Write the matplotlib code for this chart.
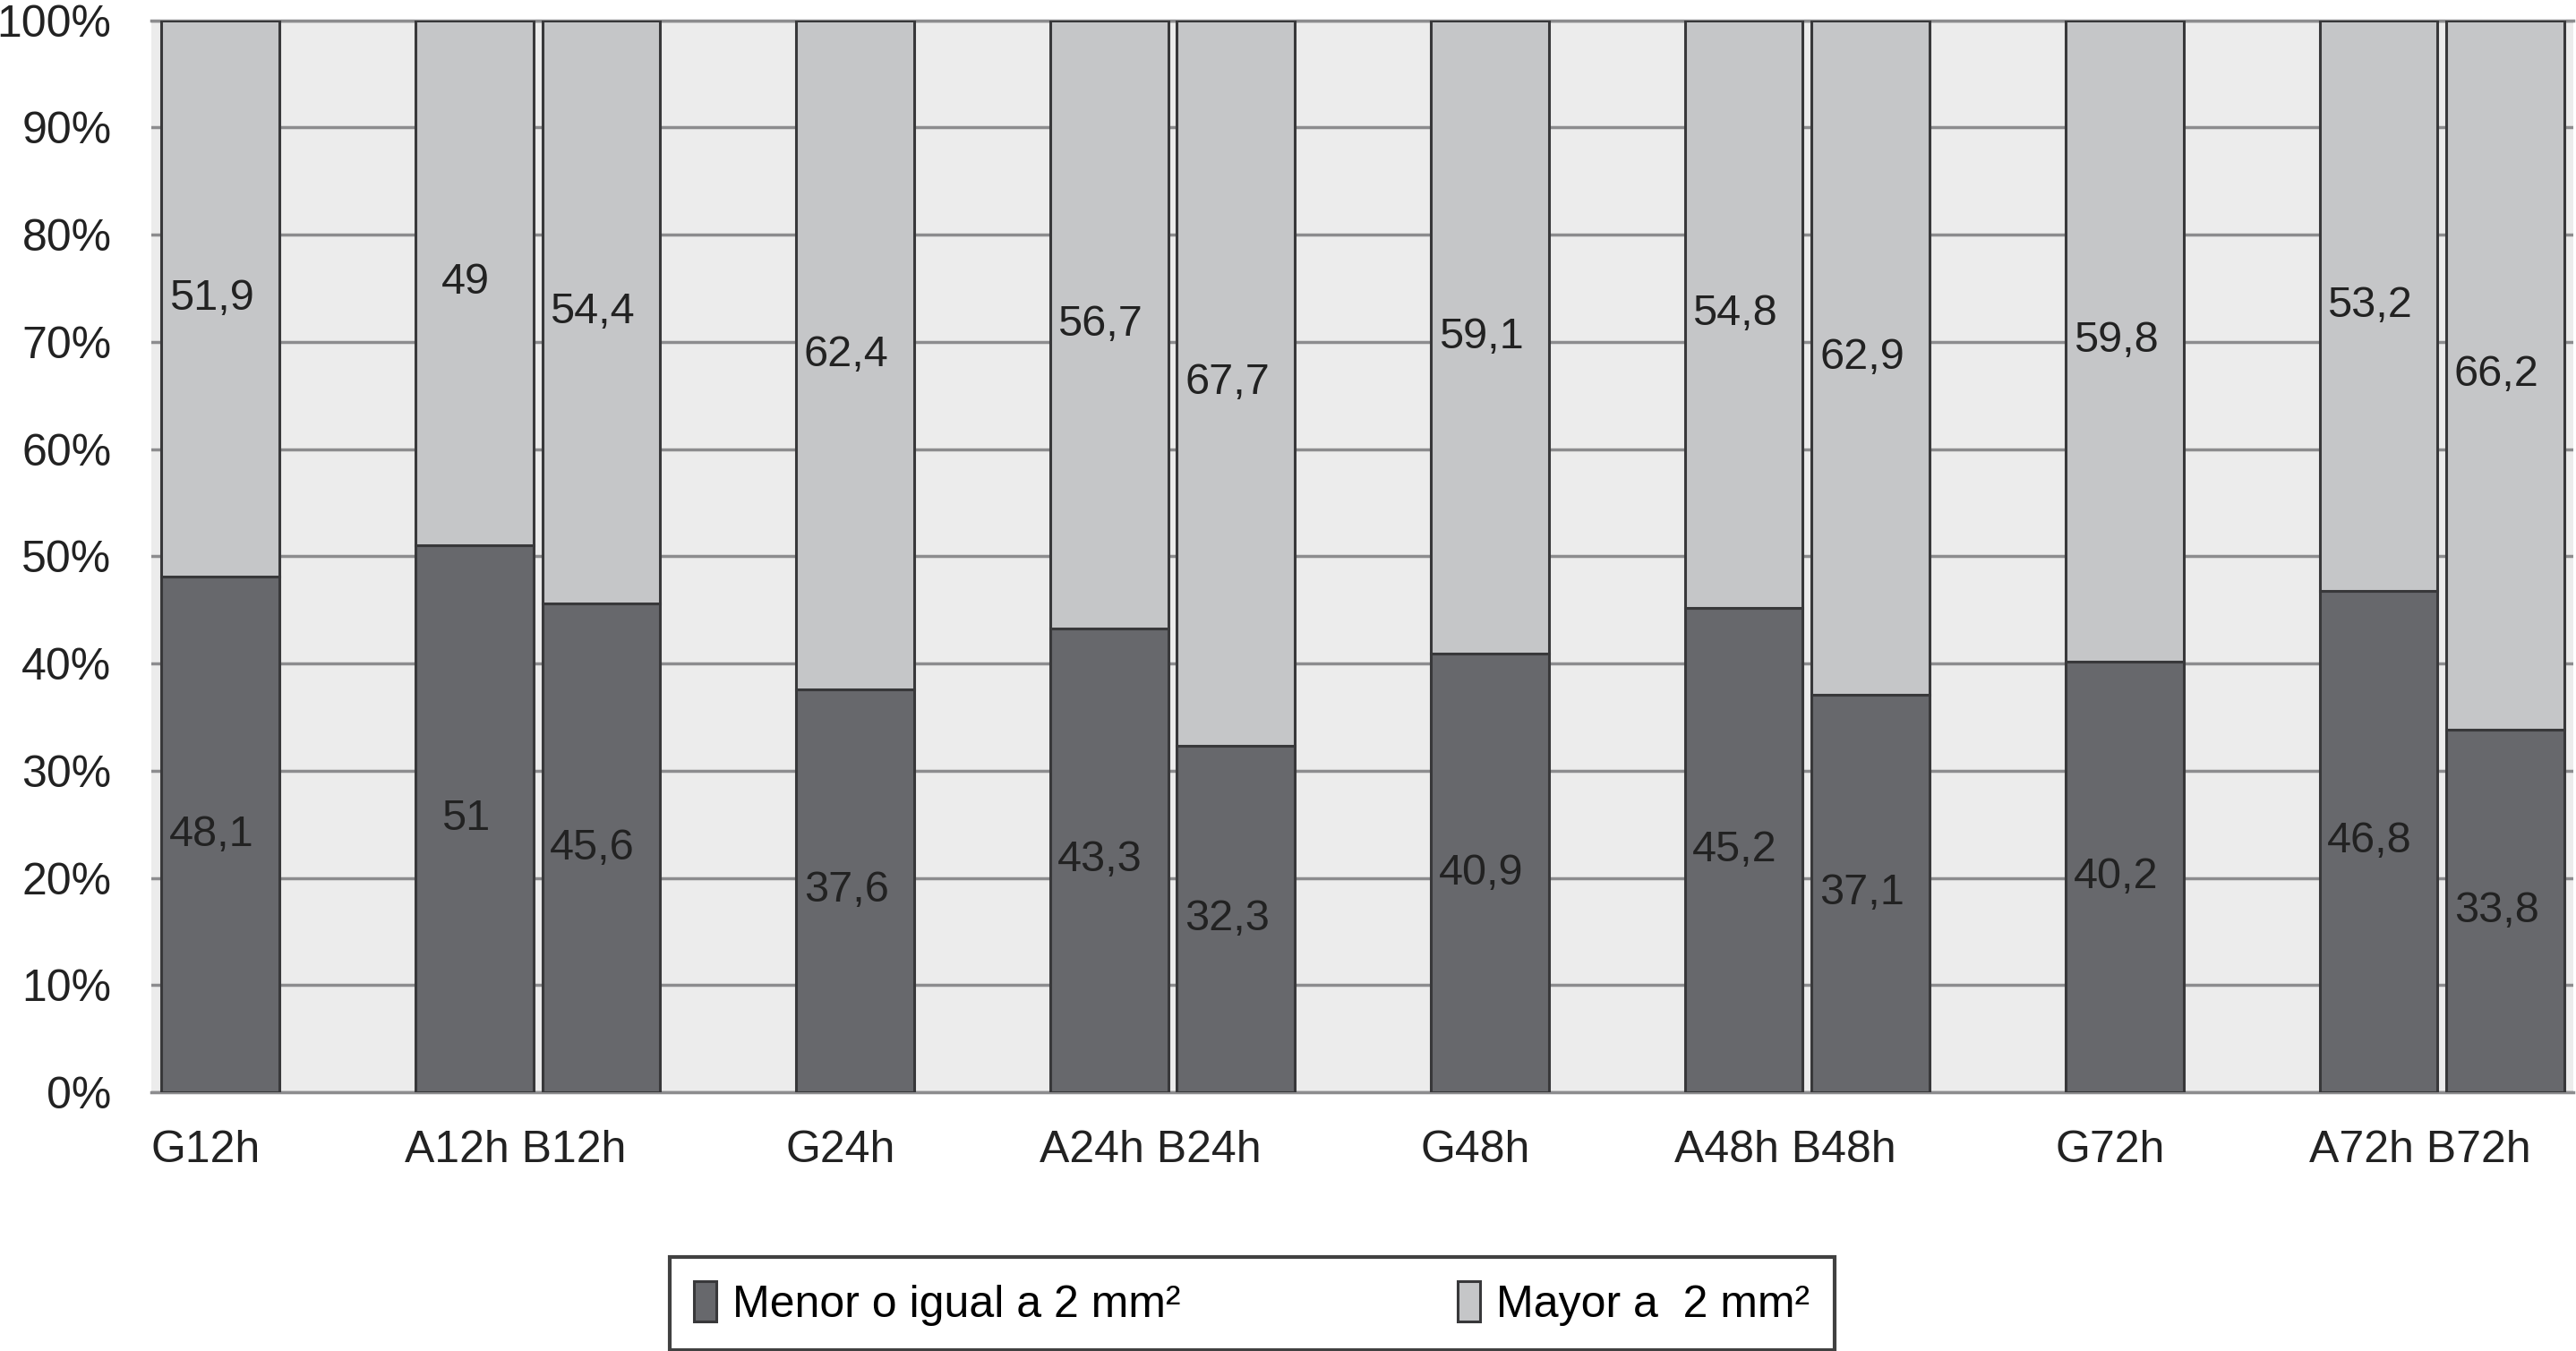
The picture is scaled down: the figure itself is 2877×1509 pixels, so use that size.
import numpy as np
import matplotlib.pyplot as plt

plt.rcParams['font.family'] = ['Liberation Sans', 'DejaVu Sans']

# 19 category slots, empty strings are the gaps between groups
slots = ["G12h", "", "A12h", "B12h", "", "G24h", "", "A24h", "B24h", "",
         "G48h", "", "A48h", "B48h", "", "G72h", "", "A72h", "B72h"]
groups = ["G12h", "A12h B12h", "G24h", "A24h B24h", "G48h", "A48h B48h",
          "G72h", "A72h B72h"]

menor = [48.1, 51, 45.6, 37.6, 43.3, 32.3, 40.9, 45.2, 37.1, 40.2, 46.8, 33.8]
mayor = [51.9, 49, 54.4, 62.4, 56.7, 67.7, 59.1, 54.8, 62.9, 59.8, 53.2, 66.2]

yticks = [0, 10, 20, 30, 40, 50, 60, 70, 80, 90, 100]

c_dark = "#67686c"
c_light = "#c5c6c8"
c_edge = "#38383a"
c_grid = "#8c8c8e"

pos = np.array([i for i, s in enumerate(slots) if s])
group_pos = [i for i, s in enumerate(slots) if s and (s.startswith("G") or s.startswith("A"))]

fig = plt.figure(figsize=(28.77, 15.09), dpi=100)
ax = fig.add_axes([0.0587, 0.1915, 0.9403, 0.7935])
ax.set_facecolor("#ececec")

width = 0.93
b1 = ax.bar(pos, menor, width=width, align="edge", color=c_dark,
            edgecolor=c_edge, linewidth=2.2, label="Menor o igual a 2 mm²", zorder=3)
b2 = ax.bar(pos, mayor, width=width, align="edge", bottom=menor, color=c_light,
            edgecolor=c_edge, linewidth=2.2, label="Mayor a  2 mm²", zorder=3)

# value labels, centred in each segment (slightly left, as in the original)
fmt = lambda v: f"{v:g}".replace(".", ",")
for x, lo, hi in zip(pos, menor, mayor):
    ax.text(x + width / 2 - 0.07, lo / 2, fmt(lo), ha="center", va="center",
            fontsize=35, color="#222222", zorder=4)
    ax.text(x + width / 2 - 0.07, lo + hi / 2, fmt(hi), ha="center", va="center",
            fontsize=35, color="#222222", zorder=4)

ax.set_xlim(0, len(slots))
ax.set_ylim(0, 100)
ax.set_yticks(yticks)
ax.set_yticklabels([f"{t}%" for t in yticks])
ax.set_xticks(np.array(group_pos) - 0.08)
ax.set_xticklabels(groups, ha="left")
ax.tick_params(axis="both", length=0, labelsize=36, colors="#222222")
ax.tick_params(axis="y", pad=32)
ax.tick_params(axis="x", pad=30)

ax.yaxis.grid(True, color=c_grid, linewidth=2.5)
ax.set_axisbelow(True)
for side in ["left", "right"]:
    ax.spines[side].set_visible(False)
for side in ["top", "bottom"]:
    ax.spines[side].set_color(c_grid)
    ax.spines[side].set_linewidth(2.5)

leg = fig.legend(handles=[b1, b2], loc="center", bbox_to_anchor=(0.486, 0.035),
                 ncol=2, fontsize=36, frameon=True, fancybox=False,
                 edgecolor="#111111", handlelength=0.5, handleheight=1.0,
                 handletextpad=0.35, columnspacing=6.2, borderpad=0.55,
                 borderaxespad=0)
leg.get_frame().set_linewidth(3)

fig.savefig("out.png", dpi=100)
